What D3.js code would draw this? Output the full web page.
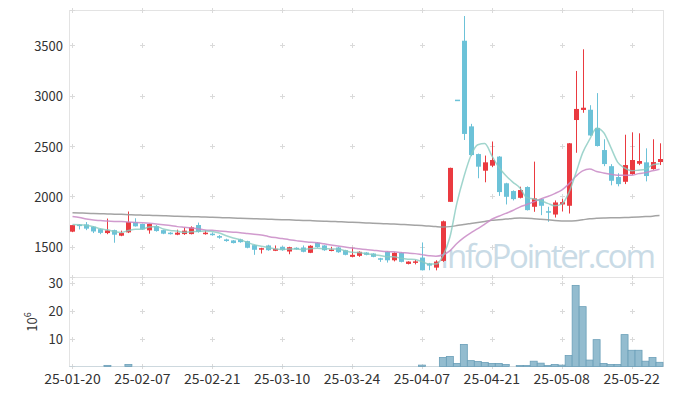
<!DOCTYPE html>
<html>
<head>
<meta charset="utf-8">
<script src="https://cdn.jsdelivr.net/npm/d3@7"></script>
<style>
  body { margin: 0; background: #fff; }
  svg { display: block; }
  text { font-family: "Noto Sans CJK KR", "Noto Sans", sans-serif; fill: #333; }
</style>
</head>
<body>
<svg></svg>
<script>
// -------------------------------------------------------------
const width = 673;
const height = 396;

const dates = ("25-01-20 25-01-21 25-01-22 25-01-23 25-01-24 25-01-31 25-02-03 25-02-04 25-02-05 25-02-06 " +
  "25-02-07 25-02-10 25-02-11 25-02-12 25-02-13 25-02-14 25-02-17 25-02-18 25-02-19 25-02-20 " +
  "25-02-21 25-02-24 25-02-25 25-02-26 25-02-27 25-02-28 25-03-04 25-03-05 25-03-06 25-03-07 " +
  "25-03-10 25-03-11 25-03-12 25-03-13 25-03-14 25-03-17 25-03-18 25-03-19 25-03-20 25-03-21 " +
  "25-03-24 25-03-25 25-03-26 25-03-27 25-03-28 25-03-31 25-04-01 25-04-02 25-04-03 25-04-04 " +
  "25-04-07 25-04-08 25-04-09 25-04-10 25-04-11 25-04-14 25-04-15 25-04-16 25-04-17 25-04-18 " +
  "25-04-21 25-04-22 25-04-23 25-04-24 25-04-25 25-04-28 25-04-29 25-04-30 25-05-02 25-05-07 " +
  "25-05-08 25-05-09 25-05-12 25-05-13 25-05-14 25-05-15 25-05-16 25-05-19 25-05-20 25-05-21 " +
  "25-05-22 25-05-23 25-05-26 25-05-27 25-05-28").split(" ");

const open  = [1650,1720,1722,1700,1675,1636,1665,1610,1643,1745, 1726,1663,1705,1665,1640,1620,1626,1626,1716,1628,
               1630,1606,1573,1563,1573,1556,1516,1473,1513,1460, 1500,1453,1490,1493,1440,1540,1513,1460,1493,1466,
               1400,1410,1443,1433,1386,1450,1366,1440,1330,1345, 1393,1333,1293,1360,1946,2960,3545,2695,2420,2255,
               2305,2395,2130,2053,1986,2093,1897,1973,1853,1820, 1920,1907,2758,2858,2860,2680,2460,2300,2192,2145,
               2221,2324,2338,2271,2341];
const high  = [1715,1725,1745,1705,1680,1780,1670,1660,1850,1783, 1730,1730,1716,1668,1645,1670,1690,1703,1740,1663,
               1643,1616,1580,1566,1580,1560,1520,1490,1520,1513, 1505,1500,1495,1513,1515,1545,1516,1500,1500,1470,
               1493,1455,1446,1436,1390,1455,1445,1445,1356,1370, 1543,1340,1366,1760,2285,2960,3790,2720,2425,2405,
               2545,2400,2135,2060,2096,2100,2345,1980,1897,1960, 1976,2530,3245,3460,2905,3025,2567,2320,2230,2612,
               2636,2626,2477,2567,2527];
const low   = [1645,1672,1665,1636,1625,1625,1540,1605,1636,1700, 1668,1630,1650,1625,1622,1615,1618,1623,1640,1620,
               1610,1580,1550,1533,1540,1485,1420,1433,1460,1457, 1460,1426,1470,1445,1437,1490,1460,1455,1440,1415,
               1395,1400,1415,1396,1350,1343,1355,1345,1325,1325, 1265,1267,1266,1350,1945,2960,2560,2400,2180,2140,
               2290,2005,1920,1960,1980,1860,1847,1814,1748,1790, 1850,1830,2433,2830,2600,2495,2300,2110,2100,2122,
               2215,2310,2149,2265,2311];
const close = [1715,1705,1680,1652,1638,1663,1620,1636,1746,1703, 1672,1726,1656,1630,1627,1640,1660,1693,1646,1640,
               1617,1590,1557,1537,1546,1490,1470,1486,1466,1480, 1467,1496,1477,1450,1510,1496,1466,1473,1446,1420,
               1420,1450,1420,1400,1376,1366,1440,1350,1353,1355, 1267,1313,1353,1753,2283,2960,2620,2410,2295,2338,
               2361,2043,1996,1973,2063,1864,1980,1907,1843,1940, 1943,2527,2868,2880,2605,2500,2321,2155,2122,2311,
               2361,2351,2202,2341,2371];
// volume in millions of shares
const volume = [0.1,0.1,0.1,0.1,0.1,0.4,0.1,0.1,0.7,0.1, 0.1,0.1,0.1,0.1,0.1,0.1,0.1,0.1,0.1,0.1,
                0.1,0.1,0.1,0.1,0.1,0.1,0.1,0.1,0.1,0.1, 0.1,0.1,0.1,0.1,0.1,0.1,0.1,0.1,0.1,0.1,
                0.1,0.1,0.1,0.1,0.1,0.1,0.1,0.1,0.1,0.1, 0.5,0.1,0.1,3.2,3.6,1.1,7.9,2.1,1.8,1.4,
                1.1,1.1,0.7,0.05,0.35,0.35,1.9,1.2,0.35,0.7, 0.5,3.9,29.0,21.4,2.3,9.6,1.1,0.7,0.7,11.4,
                5.8,5.8,1.9,3.2,1.5];
const ma5  = [1720,1718,1712,1700,1678,1668,1651,1642,1661,1674, 1675,1697,1701,1677,1662,1656,1643,1650,1653,1656,
              1651,1637,1610,1588,1569,1544,1520,1506,1492,1478, 1474,1479,1477,1474,1480,1486,1480,1479,1478,1460,
              1445,1442,1431,1422,1413,1402,1400,1386,1377,1373, 1353,1328,1328,1408,1594,1931,2193,2404,2513,2524,
              2405,2289,2207,2142,2087,1988,1975,1957,1931,1907, 1923,2032,2224,2432,2565,2676,2635,2492,2341,2282,
              2254,2260,2269,2313,2325];
const ma20 = [1800,1790,1775,1765,1760,1755,1752,1750,1745,1742, 1738,1733,1726,1718,1710,1700,1693,1686,1677,1667,
              1663,1657,1651,1645,1640,1632,1624,1617,1603,1591, 1581,1570,1561,1552,1546,1539,1529,1518,1508,1497,
              1487,1480,1473,1466,1458,1452,1450,1443,1438,1432, 1422,1412,1406,1421,1460,1533,1591,1638,1680,1726,
              1773,1803,1831,1860,1894,1919,1946,1974,1999,2028, 2062,2122,2198,2254,2271,2248,2233,2220,2211,2210,
              2210,2226,2236,2254,2270];
const ma60 = [1837,1835,1833,1830,1828,1826,1824,1822,1819,1816, 1814,1812,1810,1808,1805,1803,1801,1799,1797,1795,
              1792,1790,1788,1786,1783,1781,1779,1776,1774,1771, 1769,1767,1764,1762,1760,1757,1754,1752,1749,1746,
              1743,1740,1737,1734,1731,1728,1725,1722,1718,1714, 1710,1705,1700,1697,1700,1710,1722,1732,1742,1752,
              1762,1768,1775,1781,1785,1784,1779,1773,1767,1761, 1757,1755,1759,1768,1778,1782,1785,1787,1788,1790,
              1793,1796,1800,1804,1810];

const priceTicks = [1500, 2000, 2500, 3000, 3500];
const volTicks   = [10, 20, 30];
const dateTicks  = d3.range(0, dates.length, 10);

// -------------------------------------------------------------
const plotL = 69, plotR = 663;
const priceTop = 10, priceBot = 277, volBot = 366;

const UP = '#ea3a40', DOWN = '#6cc2d8';

const svg = d3.select('svg').attr('width', width).attr('height', height);

const x  = d3.scaleLinear().domain([-0.5, dates.length - 0.5]).range([plotL, plotR]);
const y  = d3.scaleLinear().domain([1200, 3850]).range([priceBot, priceTop]);
const yv = d3.scaleLinear().domain([0, 32]).range([volBot + 0.5, priceBot]);

const idx = d3.range(dates.length);

// frames
svg.append('rect')
  .attr('x', plotL + 0.5).attr('y', priceTop + 0.5)
  .attr('width', plotR - plotL).attr('height', priceBot - priceTop)
  .attr('fill', 'none').attr('stroke', '#e3e3e3');
svg.append('rect')
  .attr('x', plotL + 0.5).attr('y', priceBot + 0.5)
  .attr('width', plotR - plotL).attr('height', volBot - priceBot)
  .attr('fill', 'none').attr('stroke', '#e3e3e3');

// grid crosses
const crossY = [priceTop].concat(priceTicks.map(y), [priceBot], volTicks.map(yv), [volBot]);
const crosses = [];
dateTicks.forEach(i => crossY.forEach(cy => crosses.push([x(i), cy])));
svg.append('g').selectAll('path')
  .data(crosses)
  .enter().append('path')
  .attr('d', d => `M${Math.round(d[0]) - 2},${Math.round(d[1]) + 0.5}h5M${Math.round(d[0]) + 0.5},${Math.round(d[1]) - 2}v5`)
  .attr('stroke', '#dadada')
  .attr('stroke-width', 1);

// watermark
svg.append('text')
  .attr('x', 440).attr('y', 268)
  .attr('textLength', 216)
  .style('font-family', '"Open Sans", "Noto Sans", sans-serif')
  .style('font-size', '33px')
  .style('fill', '#c9dbe6')
  .text('InfoPointer.com');

// candles
const candles = svg.append('g').selectAll('g')
  .data(idx)
  .enter().append('g');

candles.append('line')
  .attr('x1', i => Math.round(x(i)) + 0.5).attr('x2', i => Math.round(x(i)) + 0.5)
  .attr('y1', i => y(high[i])).attr('y2', i => y(low[i]))
  .attr('stroke', i => close[i] > open[i] ? UP : DOWN);

candles.append('rect')
  .attr('x', i => Math.round(x(i)) - 2)
  .attr('width', 5)
  .attr('y', i => y(Math.max(open[i], close[i])))
  .attr('height', i => Math.max(1.5, Math.abs(y(open[i]) - y(close[i]))))
  .attr('fill', i => close[i] > open[i] ? UP : DOWN);

// moving averages
const maLine = arr => d3.line()
  .x(i => x(i))
  .y(i => y(arr[i]))
  .curve(d3.curveMonotoneX)(idx);

[[ma60, '#9a9a9a', 0.9], [ma20, '#c98ac6', 0.85], [ma5, '#88cbc0', 0.8]].forEach(([arr, col, op]) => {
  svg.append('path')
    .attr('d', maLine(arr))
    .attr('fill', 'none')
    .attr('stroke', col)
    .attr('stroke-opacity', op)
    .attr('stroke-width', 1.5);
});

// volume bars
svg.append('g').selectAll('rect')
  .data(idx)
  .enter().append('rect')
  .attr('x', i => x(i - 0.5))
  .attr('width', x(1) - x(0))
  .attr('y', i => yv(volume[i]))
  .attr('height', i => yv(0) - yv(volume[i]))
  .attr('fill', '#93bccf')
  .attr('stroke', i => volume[i] > 0.3 ? '#6a9fb8' : 'none')
  .attr('stroke-width', 0.8);

// axes labels
svg.append('g').selectAll('text')
  .data(priceTicks)
  .enter().append('text')
  .attr('x', 63).attr('y', d => y(d))
  .attr('text-anchor', 'end').attr('dominant-baseline', 'central')
  .style('font-size', '13px')
  .text(d => d);

svg.append('g').selectAll('text')
  .data(volTicks)
  .enter().append('text')
  .attr('x', 63).attr('y', d => yv(d))
  .attr('text-anchor', 'end').attr('dominant-baseline', 'central')
  .style('font-size', '13px')
  .text(d => d);

svg.append('g').selectAll('text')
  .data(dateTicks)
  .enter().append('text')
  .attr('x', i => x(i)).attr('y', 378)
  .attr('text-anchor', 'middle').attr('dominant-baseline', 'central')
  .style('font-size', '14px')
  .text(i => dates[i]);

const unit = svg.append('text')
  .attr('transform', 'translate(37,322) rotate(-90)')
  .attr('text-anchor', 'middle')
  .style('font-size', '13px');
unit.append('tspan').text('10');
unit.append('tspan').attr('baseline-shift', 'super').style('font-size', '9px').text('6');
</script>
</body>
</html>
